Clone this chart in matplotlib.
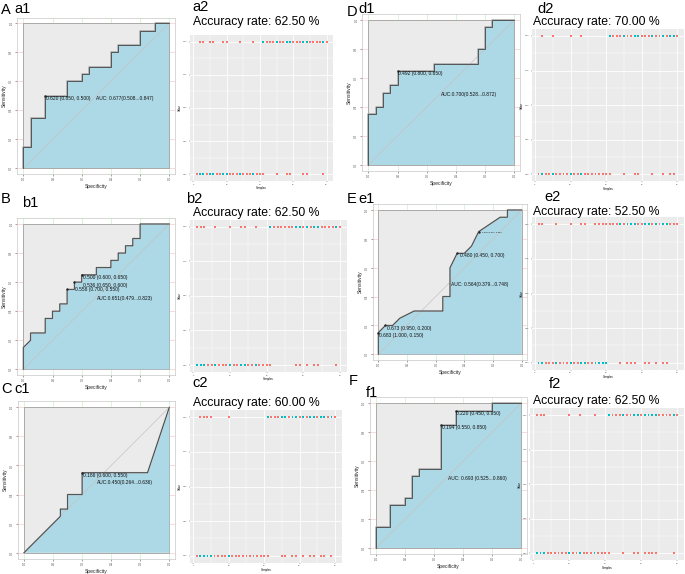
import matplotlib
matplotlib.use('Agg')
import matplotlib.pyplot as plt
from matplotlib.patches import Rectangle

plt.rcParams['font.family'] = ['Liberation Sans', 'DejaVu Sans']

W, H = 685, 574

# ROC curves: specificity / sensitivity pairs
a1_spec = [1.0, 1.0, 0.95, 0.95, 0.85, 0.85, 0.70, 0.70, 0.60, 0.60, 0.55, 0.55, 0.40, 0.40, 0.35, 0.35, 0.20, 0.20, 0.10, 0.10, 0.0]
a1_sens = [0.0, 0.15, 0.15, 0.35, 0.35, 0.50, 0.50, 0.60, 0.60, 0.65, 0.65, 0.70, 0.70, 0.80, 0.80, 0.85, 0.85, 0.95, 0.95, 1.0, 1.0]

b1_spec = [1.0, 1.0, 0.95, 0.95, 0.85, 0.85, 0.80, 0.80, 0.75, 0.75, 0.70, 0.70, 0.65, 0.65, 0.60, 0.60, 0.50, 0.50, 0.40, 0.40, 0.35, 0.35, 0.30, 0.30, 0.25, 0.25, 0.20, 0.20, 0.0]
b1_sens = [0.0, 0.15, 0.20, 0.25, 0.25, 0.35, 0.35, 0.40, 0.40, 0.45, 0.45, 0.55, 0.55, 0.60, 0.60, 0.65, 0.65, 0.70, 0.70, 0.75, 0.75, 0.80, 0.80, 0.85, 0.85, 0.90, 0.90, 1.0, 1.0]

c1_spec = [1.0, 0.75, 0.75, 0.70, 0.70, 0.60, 0.60, 0.15, 0.0]
c1_sens = [0.0, 0.25, 0.30, 0.30, 0.40, 0.40, 0.55, 0.55, 1.0]

d1_spec = [1.0, 1.0, 0.95, 0.95, 0.90, 0.90, 0.85, 0.85, 0.80, 0.80, 0.55, 0.55, 0.25, 0.25, 0.20, 0.20, 0.15, 0.15, 0.0]
d1_sens = [0.0, 0.35, 0.35, 0.40, 0.40, 0.50, 0.50, 0.55, 0.55, 0.65, 0.65, 0.70, 0.70, 0.80, 0.80, 0.95, 0.95, 1.0, 1.0]

e1_spec = [1.0, 1.0, 0.95, 0.90, 0.85, 0.80, 0.75, 0.55, 0.55, 0.50, 0.50, 0.45, 0.40, 0.35, 0.30, 0.15, 0.10, 0.10, 0.0]
e1_sens = [0.0, 0.15, 0.20, 0.20, 0.25, 0.275, 0.30, 0.30, 0.40, 0.40, 0.60, 0.70, 0.70, 0.75, 0.85, 0.95, 0.95, 1.0, 1.0]

f1_spec = [1.0, 1.0, 0.90, 0.90, 0.80, 0.80, 0.75, 0.75, 0.70, 0.70, 0.55, 0.55, 0.45, 0.45, 0.20, 0.20, 0.0]
f1_sens = [0.0, 0.15, 0.15, 0.30, 0.30, 0.35, 0.35, 0.50, 0.50, 0.55, 0.55, 0.85, 0.85, 0.95, 0.95, 1.0, 1.0]

# threshold labels (text, spec, sens of the best points)
a1_thr = [("0.620 (0.850, 0.500)", 0.85, 0.50)]
b1_thr = [("0.500 (0.600, 0.650)", 0.60, 0.65), ("0.536 (0.650, 0.600)", 0.65, 0.60), ("0.558 (0.700, 0.550)", 0.70, 0.55)]
c1_thr = [("0.186 (0.600, 0.550)", 0.60, 0.55)]
d1_thr = [("0.492 (0.800, 0.650)", 0.80, 0.65)]
e1_thr = [("0.683 (1.000, 0.150)", 1.00, 0.15), ("0.673 (0.950, 0.200)", 0.95, 0.20), ("0.480 (0.450, 0.700)", 0.45, 0.70), ("0.378 (0.300, 0.850)", 0.30, 0.85)]
f1_thr = [("0.220 (0.450, 0.950)", 0.45, 0.95), ("0.194 (0.550, 0.850)", 0.55, 0.85)]

a1_auc = "AUC: 0.677(0.508...0.847)"
b1_auc = "AUC:0.651(0.479...0.823)"
c1_auc = "AUC:0.450(0.264...0.636)"
d1_auc = "AUC:0.700(0.528...0.872)"
e1_auc = "AUC: 0.564(0.379...0.748)"
f1_auc = "AUC: 0.693 (0.525...0.860)"

# classification plots: misclassified samples of each class (40 samples, 20 per class)
a2_wrong_neg = [2, 3, 5, 6, 9, 10, 14, 18]
a2_wrong_pos = [21, 25, 28, 29, 33, 34, 39]
b2_wrong_neg = [1, 2, 3, 6, 10, 13, 14, 17]
b2_wrong_pos = [21, 28, 29, 31, 33, 34, 39]
c2_wrong_neg = [2, 3, 4, 5, 10]
c2_wrong_pos = [21, 25, 26, 28, 29, 31, 33, 34, 36, 37, 39]
d2_wrong_neg = [2, 5, 10, 13]
d2_wrong_pos = [21, 25, 28, 29, 33, 36, 38, 39]
e2_wrong_neg = [1, 2, 6, 10, 13, 14, 17, 18, 19, 20]
e2_wrong_pos = [24, 26, 27, 28, 31, 32, 34, 36, 37]
f2_wrong_neg = [1, 2, 3, 10, 13, 17]
f2_wrong_pos = [21, 25, 28, 29, 31, 32, 33, 34, 39]

accuracy = ["62.50", "62.50", "60.00", "70.00", "52.50", "62.50"]
samples = list(range(1, 41))
n_neg = 20

RED = '#F8766D'
CYAN = '#00BFC4'

fig = plt.figure(figsize=(W / 100, H / 100), dpi=100)


def px_axes(left, top, width, height):
    return fig.add_axes([left / W, 1 - (top + height) / H, width / W, height / H])


def ftext(x, y, s, size, **kw):
    fig.text(x / W, 1 - y / H, s, fontsize=size, va='center', ha='left', **kw)


def roc_panel(x0, x1, y0, y1, spec, sens, thr, auc_text, thr_pos, auc_pos):
    ux = x1 - x0
    uy = y0 - y1
    ax = px_axes(x0 - 0.04 * ux, y1 - 0.04 * uy, 1.08 * ux, 1.08 * uy)
    ax.set_xlim(1.04, -0.04)
    ax.set_ylim(-0.04, 1.04)
    ticks = [1.0, 0.8, 0.6, 0.4, 0.2, 0.0]
    for t in ticks:
        ax.axvline(t, color='#c9f0c9', lw=0.5, zorder=0)
        ax.axhline(t, color='#f6cccc', lw=0.5, zorder=0)
    ax.add_patch(Rectangle((0, 0), 1, 1, facecolor='#ebebeb', edgecolor='#a0a0a0', lw=0.6, zorder=1))
    ax.fill(list(spec) + [0.0, 1.0], list(sens) + [0.0, 0.0], color='#add8e6', lw=0, zorder=2)
    ax.plot([1, 0], [0, 1], color='#c4c4c4', lw=0.5, zorder=3)
    ax.plot(spec, sens, color='#a8a8a8', lw=1.1, zorder=4)
    ax.plot(spec, sens, color='#333333', lw=0.5, zorder=5)
    for (label, sx, sy), (tx, ty, fs) in zip(thr, thr_pos):
        ax.plot(sx, sy, 'o', ms=0.7, color='#222222', zorder=6)
        ax.text(tx, ty, label, fontsize=fs, ha='left', va='center', color='#111111', zorder=7)
    ax.text(auc_pos[0], auc_pos[1], auc_text, fontsize=3.5, ha='left', va='center', color='#111111', zorder=7)
    ax.set_xticks(ticks)
    ax.set_xticklabels(['1.0', '0.8', '0.6', '0.4', '0.2', '0.0'])
    ax.set_yticks(ticks)
    ax.set_yticklabels(['1.0', '0.8', '0.6', '0.4', '0.2', '0.0'], rotation=90, va='center')
    ax.tick_params(labelsize=2.2, length=1.5, width=0.4, colors='#555555', pad=1.5)
    ax.set_xlabel('Specificity', fontsize=3.6, labelpad=1.5, color='#222222')
    ax.set_ylabel('Sensitivity', fontsize=3.6, labelpad=1.5, color='#222222')
    for sp in ax.spines.values():
        sp.set_color('#c8c8c8')
        sp.set_linewidth(0.5)
    return ax


def acc_panel(p0, p40, q1, q0, wrong_neg, wrong_pos):
    ux = (p40 - p0) / 40
    uy = q0 - q1
    ax = px_axes(p0 - 0.95 * ux, q1 - 0.05 * uy, 42.9 * ux, 1.1 * uy)
    ax.set_facecolor('#ebebeb')
    ax.set_xlim(-0.95, 41.95)
    ax.set_ylim(-0.05, 1.05)
    ax.set_xticks([0, 10, 20, 30, 40])
    ax.set_xticks([5, 15, 25, 35], minor=True)
    ax.set_yticks([0, 0.25, 0.5, 0.75, 1.0])
    ax.set_yticks([0.125, 0.375, 0.625, 0.875], minor=True)
    ax.set_yticklabels(['0.00', '0.25', '0.50', '0.75', '1.00'])
    ax.grid(True, which='major', color='white', lw=0.6)
    ax.grid(True, which='minor', color='white', lw=0.3)
    ax.set_axisbelow(True)
    for sp in ax.spines.values():
        sp.set_visible(False)
    ax.tick_params(which='major', labelsize=1.6, length=1, width=0.3, colors='#4d4d4d', pad=1)
    ax.tick_params(which='minor', length=0)
    ax.set_xlabel('Samples', fontsize=2, labelpad=0.5)
    ax.set_ylabel('Value', fontsize=2, labelpad=0.5)

    neg = [s for s in samples if s <= n_neg]
    pos = [s for s in samples if s > n_neg]
    neg_c = [CYAN if s in wrong_neg else RED for s in neg]
    pos_c = [CYAN if s in wrong_pos else RED for s in pos]
    ax.scatter(neg, [0] * len(neg), c=neg_c, s=1.8, lw=0, marker='s')
    ax.scatter(pos, [1] * len(pos), c=pos_c, s=1.8, lw=0, marker='s')
    ax.scatter(wrong_neg, [1] * len(wrong_neg), c=RED, s=1.8, lw=0, marker='s')
    ax.scatter(wrong_pos, [0] * len(wrong_pos), c=RED, s=1.8, lw=0, marker='s')
    return ax


# ROC panels
roc_panel(23.3, 169.3, 168.3, 23.3, a1_spec, a1_sens, a1_thr, a1_auc,
          [(0.845, 0.483, 3.5)], (0.50, 0.483))
roc_panel(23.3, 169.3, 369.3, 224.0, b1_spec, b1_sens, b1_thr, b1_auc,
          [(0.594, 0.630, 3.5), (0.594, 0.580, 3.5), (0.648, 0.550, 3.5)], (0.493, 0.489))
roc_panel(24.0, 169.3, 552.7, 407.3, c1_spec, c1_sens, c1_thr, c1_auc,
          [(0.592, 0.530, 3.5)], (0.50, 0.484))
roc_panel(368.3, 514.3, 165.0, 20.0, d1_spec, d1_sens, d1_thr, d1_auc,
          [(0.795, 0.628, 3.5)], (0.502, 0.483))
roc_panel(378.3, 521.7, 354.3, 210.0, e1_spec, e1_sens, e1_thr, e1_auc,
          [(0.995, 0.129, 3.5), (0.942, 0.180, 3.5), (0.430, 0.684, 3.5), (0.279, 0.843, 1.6)], (0.493, 0.485))
roc_panel(375.7, 521.0, 548.3, 403.3, f1_spec, f1_sens, f1_thr, f1_auc,
          [(0.447, 0.931, 3.5), (0.541, 0.832, 3.5)], (0.50, 0.478))

# accuracy panels
acc_panel(193.3, 326.7, 41.7, 174.3, a2_wrong_neg, a2_wrong_pos)
acc_panel(193.3, 340.0, 226.7, 365.0, b2_wrong_neg, b2_wrong_pos)
acc_panel(193.3, 335.0, 417.3, 555.7, c2_wrong_neg, c2_wrong_pos)
acc_panel(535.0, 677.3, 36.0, 174.3, d2_wrong_neg, d2_wrong_pos)
acc_panel(535.0, 677.3, 224.3, 362.7, e2_wrong_neg, e2_wrong_pos)
acc_panel(533.3, 677.3, 415.0, 553.3, f2_wrong_neg, f2_wrong_pos)

# panel letters and titles
ftext(1, 10, 'A', 10.5)
ftext(14, 9, 'a1', 10.5)
ftext(1, 199, 'B', 10.5)
ftext(22, 203, 'b1', 10.5)
ftext(1, 389, 'C', 10.5)
ftext(14, 389, 'c1', 10.5)
ftext(347, 12, 'D', 10.5)
ftext(358, 9, 'd1', 10.5)
ftext(347, 199, 'E', 10.5)
ftext(358, 199, 'e1', 10.5)
ftext(349, 381, 'F', 10.5)
ftext(366, 393, 'f1', 10.5)

ftext(192, 7, 'a2', 10.5)
ftext(186, 199, 'b2', 10.5)
ftext(192, 383, 'c2', 10.5)
ftext(537, 9, 'd2', 10.5)
ftext(544, 197, 'e2', 10.5)
ftext(549, 384, 'f2', 10.5)

acc_xy = [(193, 22), (193, 213), (193, 403), (533, 22), (533, 212), (533, 401)]
for (x, y), a in zip(acc_xy, accuracy):
    ftext(x, y, 'Accuracy rate: ' + a + ' %', 8.8)

fig.savefig('out.png', dpi=100)
